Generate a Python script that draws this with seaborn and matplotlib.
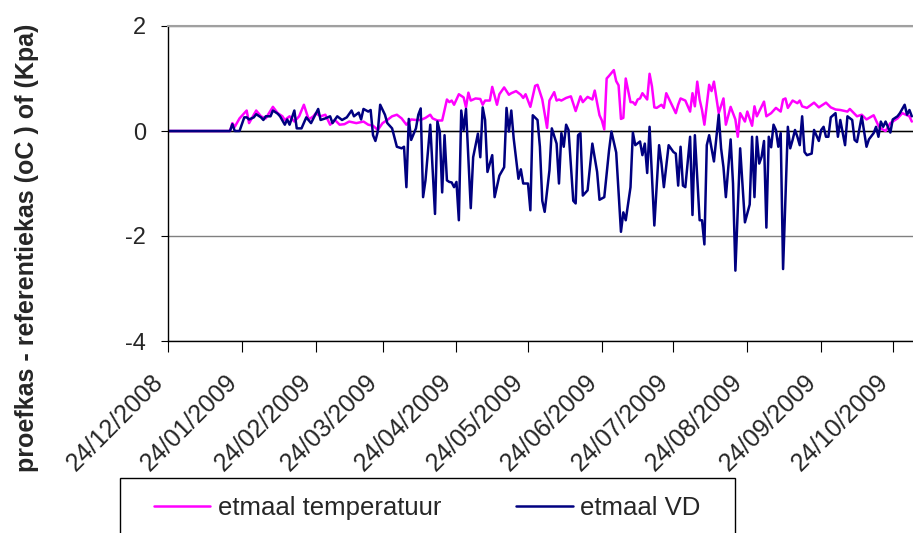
import pandas as pd
import seaborn as sns
import matplotlib.pyplot as plt
from matplotlib.patches import Rectangle

# days since 24/12/2008 and daily differences (proefkas - referentiekas)
temp_day = [0, 26, 27, 28, 30, 33, 34, 36, 37, 39, 41, 44, 46, 48, 49, 51, 53, 55, 57, 59,
            61, 62, 64, 66, 68, 70, 72, 74, 76, 79, 82, 84, 86, 88, 90, 92, 94, 96, 98, 100,
            102, 104, 106, 108, 110, 111, 113, 115, 117, 118, 119, 120, 122, 124, 125, 126,
            127, 129, 131, 132, 133, 135, 136, 138, 139, 141, 143, 144, 146, 148, 149, 150,
            152, 154, 155, 157, 159, 160, 162, 163, 164, 165, 167, 169, 171, 173, 174, 176,
            178, 179, 181, 182, 183, 184, 185, 187, 188, 189, 190, 191, 192, 194, 195, 196,
            197, 198, 199, 201, 202, 203, 204, 205, 207, 208, 209, 211, 213, 214, 215, 217,
            219, 220, 221, 222, 223, 224, 225, 227, 228, 229, 231, 233, 234, 236, 238, 239,
            240, 242, 243, 245, 246, 247, 250, 251, 253, 255, 257, 258, 259, 260, 262, 264,
            265, 266, 268, 271, 273, 274, 276, 278, 280, 282, 285, 286, 289, 291, 293, 296,
            298, 299, 301, 303, 306, 308, 311, 312]
temp_val = [0, 0, 0.15, 0.08, 0.24, 0.39, 0.15, 0.31, 0.39, 0.28, 0.24, 0.46, 0.34, 0.28, 0.21, 0.28, 0.18, 0.28, 0.50, 0.22,
            0.28, 0.34, 0.28, 0.31, 0.12, 0.21, 0.12, 0.13, 0.18, 0.15, 0.18, 0.12, 0.10, 0.02, 0.15, 0.21, 0.28, 0.31, 0.24, 0.12,
            0.22, 0.21, 0.21, 0.25, 0.31, 0.24, 0.20, 0.20, 0.60, 0.55, 0.58, 0.50, 0.70, 0.64, 0.45, 0.73,
            0.58, 0.62, 0.61, 0.50, 0.58, 0.58, 0.84, 0.50, 0.70, 0.83, 0.69, 0.72, 0.76, 0.69, 0.63, 0.70,
            0.46, 0.86, 0.88, 0.60, 0.06, 0.58, 0.74, 0.58, 0.60, 0.58, 0.63, 0.66, 0.38, 0.66, 0.55, 0.65,
            0.60, 0.77, 0.30, 0.20, 0.03, 1.00, 1.05, 1.16, 0.95, 0.87, 0.23, 0.25, 1.00, 0.55, 0.55, 0.50,
            0.60, 0.62, 0.72, 0.60, 1.09, 0.85, 0.45, 0.44, 0.50, 0.44, 0.72, 0.53, 0.34, 0.50, 0.62, 0.58,
            0.37, 0.72, 0.47, 0.94, 0.60, 0.40, 0.12, 0.88, 0.76, 0.94, 0.34, 0.62, 0.12, 0.46, 0.22, -0.11,
            0.34, 0.18, 0.37, 0.10, 0.47, 0.28, 0.56, 0.28, 0.34, 0.44, 0.37, 0.60, 0.62, 0.44, 0.58, 0.53,
            0.58, 0.47, 0.44, 0.54, 0.45, 0.48, 0.54, 0.45, 0.41, 0.40, 0.37, 0.42, 0.28, 0.31, 0.22, 0.30,
            0.10, 0.05, 0.00, 0.15, 0.24, 0.34, 0.28, 0.18]

vd_day = [0, 26, 27, 28, 30, 32, 33, 34, 36, 37, 39, 40, 41, 43, 44, 46, 47, 49, 50, 51,
          53, 54, 56, 58, 60, 63, 64, 66, 68, 69, 71, 73, 75, 77, 78, 80, 81, 82, 84, 85,
          86, 87, 88, 89, 91, 92, 94, 96, 98, 99, 100, 101, 102, 104, 105, 106, 107, 108, 110, 112,
          113, 114, 115, 116, 117, 118, 119, 120, 121, 122, 123, 124, 125, 127, 128, 130, 131, 132, 133, 134,
          136, 137, 139, 141, 142, 143, 144, 145, 147, 148, 149, 151, 152, 153, 155, 156, 157, 158, 160, 161,
          163, 164, 165, 166, 167, 168, 170, 171, 172, 173, 174, 176, 178, 180, 181, 183, 185, 186, 188, 190,
          191, 192, 194, 195, 196, 198, 199, 200, 201, 202, 204, 206, 207, 208, 210, 212, 213, 214, 215, 216,
          217, 219, 220, 221, 223, 224, 225, 226, 227, 229, 231, 232, 233, 234, 236, 237, 238, 240, 242, 244,
          245, 246, 247, 248, 249, 250, 251, 252, 253, 254, 255, 256, 257, 258, 260, 261, 262, 263, 264, 265,
          266, 267, 268, 270, 271, 273, 274, 275, 276, 277, 278, 280, 281, 282, 284, 285, 287, 288, 289, 291,
          293, 294, 296, 297, 298, 299, 300, 301, 303, 304, 306, 307, 309, 310, 311, 312]
vd_val = [0, 0, 0.13, 0, 0, 0.26, 0.26, 0.22, 0.26, 0.32, 0.26, 0.21, 0.28, 0.28, 0.39, 0.33, 0.28, 0.12, 0.22, 0.12,
          0.39, 0.05, 0.05, 0.26, 0.15, 0.42, 0.21, 0.24, 0.28, 0.15, 0.28, 0.21, 0.26, 0.39, 0.28, 0.35, 0.22, 0.42, 0.37, 0.40,
          -0.08, -0.19, -0.01, 0.50, 0.31, 0.15, 0.05, -0.30, -0.33, -0.30, -1.07, 0.23, -0.17, 0.05, 0.31, 0.43, -1.26, -0.94, 0.12, -1.58,
          0.18, -0.01, -1.17, -0.08, -0.94, -0.97, -0.98, -1.07, -0.97, -1.70, 0.39, 0.02, 0.42, -1.47, -0.50, -0.05, -0.50, 0.45, 0.21, -0.78,
          -0.46, -1.26, -0.85, -0.69, 0.44, -0.01, 0.39, -0.14, -0.91, -0.73, -1.00, -1.00, -1.51, 0.30, 0.21, -0.30, -1.33, -1.54, -0.75, 0.05,
          -0.24, -1.00, -0.04, -0.30, 0.12, 0.02, -1.33, -1.38, -0.08, -0.04, -1.23, -1.13, -0.24, -0.78, -1.31, -1.26, -0.37, -0.01, -0.41, -1.92,
          -1.55, -1.70, -1.07, -0.03, -0.27, -0.20, -0.46, -0.24, -0.80, 0.08, -1.80, -0.27, -0.62, -1.07, -0.27, -0.40, -0.43, -1.04, -0.30, -1.04,
          -1.07, -0.11, -1.60, -0.08, -1.70, -1.70, -2.16, -0.27, -0.08, -0.58, 0.31, -0.33, -0.69, -1.26, -0.16, -1.00, -2.66, -0.33, -1.74, -1.40,
          -0.11, -1.26, -0.11, -0.62, -0.49, -0.19, -1.84, -0.11, -0.31, 0.12, 0.02, -0.30, -0.04, -2.63, 0.08, -0.33, -0.17, 0.02, -0.11, -0.27,
          0.28, -0.40, -0.46, -0.43, 0.02, -0.19, 0.02, 0.08, -0.11, -0.11, 0.26, 0.34, -0.11, 0.21, -0.27, 0.28, 0.21, -0.17, -0.21, 0.28,
          -0.30, -0.16, -0.04, 0.08, -0.11, 0.18, 0.08, 0.18, -0.03, 0.22, 0.28, 0.34, 0.50, 0.31, 0.40, 0.28]

series_names = ['etmaal temperatuur', 'etmaal VD']
series_colors = ['#FF00FF', '#000080']
y_ticks = [-4, -2, 0, 2]

start = pd.Timestamp('2008-12-24')
df = pd.concat([
    pd.DataFrame({'datum': start + pd.to_timedelta(temp_day, unit='D'), 'waarde': temp_val, 'reeks': series_names[0]}),
    pd.DataFrame({'datum': start + pd.to_timedelta(vd_day, unit='D'), 'waarde': vd_val, 'reeks': series_names[1]}),
], ignore_index=True)

sns.set_style('white')
plt.rcParams['font.family'] = ['Liberation Sans', 'DejaVu Sans']

fig = plt.figure(figsize=(9.13, 5.33), dpi=100)
ax = fig.add_axes([168 / 913, 1 - 341 / 533, 745 / 913, 315 / 533])

sns.lineplot(data=df, x='datum', y='waarde', hue='reeks', estimator=None,
             palette=dict(zip(series_names, series_colors)), linewidth=1.8, ax=ax)

ax.set_ylim(-4, 2)
ax.set_xlim(start, start + pd.Timedelta(days=312.5))
ax.set_yticks(y_ticks)
ax.set_yticklabels([str(t) for t in y_ticks], fontsize=17)
ax.yaxis.grid(True, color='#808080', lw=1)
ax.axhline(0, color='black', lw=1, zorder=1)

xt = pd.date_range('2008-12-24', periods=11, freq=pd.DateOffset(months=1))
ax.set_xticks(xt)
# va='bottom' slides each label up-left; the larger pad brings it back down
ax.set_xticklabels([d.strftime('%d/%m/%Y') for d in xt], fontsize=18, rotation=45,
                   ha='right', va='bottom', rotation_mode='anchor')
ax.tick_params(axis='x', length=8, pad=25, color='black', direction='out', bottom=True)
ax.tick_params(axis='y', length=5, pad=11, color='black', direction='out', left=True)
ax.set_xlabel('')
ax.set_ylabel('')

for s in ['left', 'bottom']:
    ax.spines[s].set_color('black')
    ax.spines[s].set_linewidth(1)
ax.spines['top'].set_color('#A0A0A0')
ax.spines['top'].set_linewidth(1.5)
ax.spines['right'].set_visible(False)

handles, labels = ax.get_legend_handles_labels()
ax.get_legend().remove()
fig.legend(handles, labels, ncol=2, frameon=False, loc='center', bbox_to_anchor=(0.468, 1 - 508 / 533),
           fontsize=18.5, handlelength=2.2, columnspacing=2.9, handletextpad=0.3)
fig.patches.append(Rectangle((120 / 913, -0.05), 615 / 913, 55 / 533 + 0.05, transform=fig.transFigure,
                             fill=False, ec='black', lw=1))

fig.text(27 / 913, 1 - 248 / 533, 'proefkas - referentiekas (oC ) of (Kpa)', rotation=90,
         fontweight='bold', fontsize=18, ha='center', va='center')

fig.savefig('out.png', dpi=100)
